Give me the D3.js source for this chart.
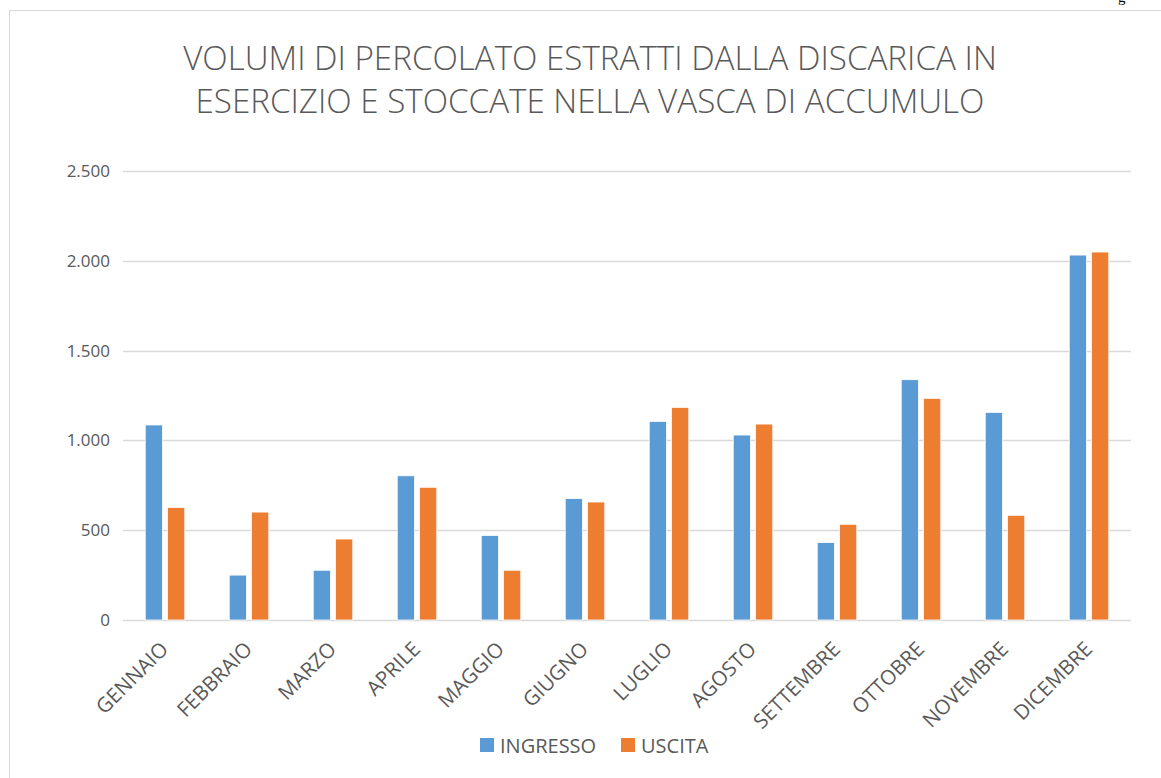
<!DOCTYPE html>
<html>
<head>
<meta charset="utf-8">
<script src="https://cdn.jsdelivr.net/npm/d3@7"></script>
<style>
  body { margin: 0; background: #fff; }
  svg { display: block; }
</style>
</head>
<body>
<svg id="chart" width="1161" height="778"></svg>
<script>
const months = ['GENNAIO', 'FEBBRAIO', 'MARZO', 'APRILE', 'MAGGIO', 'GIUGNO',
  'LUGLIO', 'AGOSTO', 'SETTEMBRE', 'OTTOBRE', 'NOVEMBRE', 'DICEMBRE'];
const ingresso = [1086, 250, 277, 803, 471, 676, 1106, 1030, 432, 1338, 1156, 2032];
const uscita = [627, 601, 451, 739, 277, 657, 1184, 1091, 533, 1234, 583, 2049];
const seriesNames = ['INGRESSO', 'USCITA'];
const yTicks = [0, 500, 1000, 1500, 2000, 2500];
const titleLines = ['VOLUMI DI PERCOLATO ESTRATTI DALLA DISCARICA IN',
  'ESERCIZIO E STOCCATE NELLA VASCA DI ACCUMULO'];

const colors = ['#5B9BD5', '#ED7D31'];
const textColor = '#595959';
const font = "'Open Sans', 'Noto Sans', sans-serif";

const svg = d3.select('#chart');

// page header fragment, cut at the top
svg.append('text').attr('x', 1118).attr('y', 2)
  .attr('font-family', "'Liberation Serif', serif").attr('font-size', 15)
  .attr('fill', '#000').text('g');

// chart frame (right and bottom edges fall outside the picture)
svg.append('rect').attr('x', 9.5).attr('y', 10.5)
  .attr('width', 1200).attr('height', 800)
  .attr('fill', '#fff').attr('stroke', '#d9d9d9').attr('stroke-width', 1);

// title, sized so the first line spans like the original
const title = svg.append('text')
  .attr('font-family', font).attr('font-weight', 300)
  .attr('font-size', 30).attr('fill', textColor)
  .attr('text-anchor', 'middle');
title.selectAll('tspan').data(titleLines).enter().append('tspan')
  .attr('x', 590).attr('y', (d, i) => 70 + i * 43).text(d => d);
const w0 = title.select('tspan').node().getComputedTextLength();
title.attr('font-size', 30 * 814 / w0);

const plot = { left: 123, right: 1131, top: 171, bottom: 620 };

const x = d3.scaleBand().domain(months).range([plot.left, plot.right]).paddingInner(0).paddingOuter(0);
const xs = d3.scaleBand().domain(seriesNames).range([0, x.bandwidth()]).paddingInner(0.22).paddingOuter(1.0);
const y = d3.scaleLinear().domain([0, 2500]).range([plot.bottom, plot.top]);

// grid
svg.append('g').selectAll('line').data(yTicks).enter().append('line')
  .attr('x1', plot.left).attr('x2', plot.right)
  .attr('y1', d => Math.round(y(d)) + 0.5).attr('y2', d => Math.round(y(d)) + 0.5)
  .attr('stroke', '#d9d9d9').attr('stroke-width', 1.3);

// y axis labels
const yAxis = svg.append('g').attr('transform', `translate(${plot.left - 10},0)`)
  .call(d3.axisLeft(y).tickValues(yTicks).tickSize(0)
    .tickFormat(d => d3.format(',')(d).replace(/,/g, '.')));
yAxis.select('.domain').remove();
yAxis.selectAll('text').attr('font-family', font).attr('font-size', 17)
  .attr('fill', textColor).attr('dx', 0);

// bars
const rows = months.map((m, i) => ({ month: m, values: [ingresso[i], uscita[i]] }));
const groups = svg.append('g').selectAll('g').data(rows).enter().append('g')
  .attr('transform', d => `translate(${x(d.month)},0)`);
groups.selectAll('rect').data(d => d.values.map((v, j) => ({ name: seriesNames[j], v, j })))
  .enter().append('rect')
  .attr('x', d => xs(d.name)).attr('width', xs.bandwidth())
  .attr('y', d => y(d.v)).attr('height', d => y(0) - y(d.v))
  .attr('fill', d => colors[d.j]).attr('stroke', '#fff').attr('stroke-width', 0.8);

// x axis labels
const xAxis = svg.append('g').attr('transform', `translate(0,${plot.bottom})`)
  .call(d3.axisBottom(x).tickSize(0));
xAxis.select('.domain').remove();
xAxis.selectAll('text')
  .attr('font-family', font).attr('font-size', 20.5).attr('fill', textColor)
  .attr('text-anchor', 'end')
  .attr('transform', 'translate(-6,20) rotate(-45)')
  .attr('dy', '0.72em').attr('y', 0).attr('x', 0);

// legend
const legend = svg.append('g').attr('transform', 'translate(480,738)');
const items = legend.selectAll('g').data(seriesNames).enter().append('g')
  .attr('transform', (d, i) => `translate(${i * 141},0)`);
items.append('rect').attr('width', 14).attr('height', 14).attr('fill', (d, i) => colors[i]);
items.append('text').attr('x', 20).attr('y', 14.5)
  .attr('font-family', font).attr('font-size', 20).attr('fill', textColor).text(d => d);
</script>
</body>
</html>
